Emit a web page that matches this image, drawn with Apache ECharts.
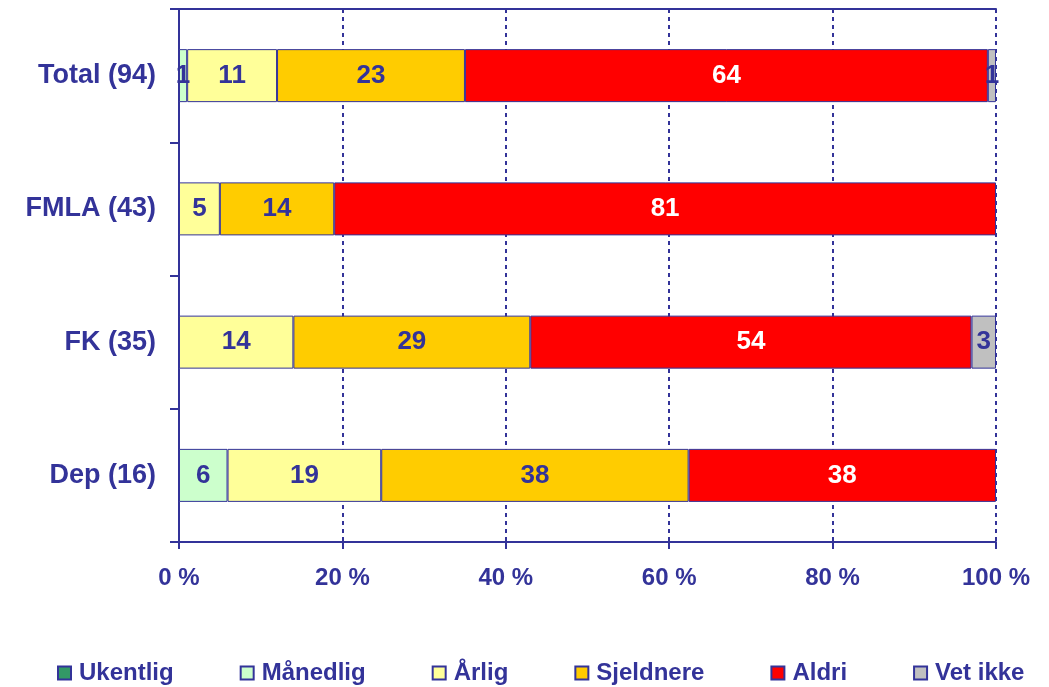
<!DOCTYPE html>
<html>
<head>
  <meta charset="utf-8">
  <title>Hyppighet</title>
  <script src="https://cdn.jsdelivr.net/npm/echarts/dist/echarts.min.js"></script>
  <style>
    body { margin: 0; background: #fff; }
    #chart { width: 1049px; height: 687px; }
  </style>
</head>
<body>
  <div id="chart"></div>
  <script>
    // data (rows top to bottom)
    var categories = ['Total (94)', 'FMLA (43)', 'FK (35)', 'Dep (16)'];
    var seriesNames = ['Ukentlig', 'Månedlig', 'Årlig', 'Sjeldnere', 'Aldri', 'Vet ikke'];
    var ukentlig  = [0, 0, 0, 0];
    var manedlig  = [1, 0, 0, 6];
    var arlig     = [11, 5, 14, 19];
    var sjeldnere = [23, 14, 29, 38];
    var aldri     = [64, 81, 54, 38];
    var vetIkke   = [1, 0, 3, 0];
    var tickLabels = [0, 20, 40, 60, 80, 100];

    var values = [ukentlig, manedlig, arlig, sjeldnere, aldri, vetIkke];
    var colors = ['#339966', '#CCFFCC', '#FFFF99', '#FFCC00', '#FF0000', '#C0C0C0'];
    var textColors = ['#ffffff', '#333399', '#333399', '#333399', '#ffffff', '#333399'];
    var navy = '#333399';
    var font = '"Liberation Sans", Arial, sans-serif';

    // row sums -> 100 % stack
    var sums = categories.map(function (c, i) {
      return values.reduce(function (s, arr) { return s + arr[i]; }, 0);
    });

    var series = seriesNames.map(function (name, k) {
      return {
        name: name,
        type: 'bar',
        stack: 'all',
        barWidth: 53,
        data: values[k].map(function (v, i) {
          return v ? v / sums[i] * 100 : null;
        }),
        itemStyle: { color: colors[k], borderColor: navy, borderWidth: 1 },
        label: {
          show: true,
          position: 'inside',
          color: textColors[k],
          fontFamily: font,
          fontWeight: 'bold',
          fontSize: 26,
          formatter: function (p) { return values[k][p.dataIndex] || ''; }
        }
      };
    });

    var chart = echarts.init(document.getElementById('chart'));
    chart.setOption({
      animation: false,
      grid: { left: 179, right: 53, top: 9, bottom: 145 },
      legend: {
        bottom: -3,
        left: 52,
        itemWidth: 13,
        itemHeight: 13,
        itemGap: 66,
        textStyle: { color: navy, fontFamily: font, fontWeight: 'bold', fontSize: 24, padding: [0, 0, 0, 3] },
        data: seriesNames.map(function (n) { return { name: n, icon: 'rect' }; })
      },
      xAxis: [{
        type: 'value',
        min: 0,
        max: 100,
        interval: 20,
        axisLine: { show: true, lineStyle: { color: navy, width: 2 } },
        axisTick: { show: true, length: 7, lineStyle: { color: navy, width: 2 } },
        axisLabel: {
          color: navy, fontFamily: font, fontWeight: 'bold', fontSize: 24, margin: 24,
          formatter: function (v) { return tickLabels.indexOf(v) >= 0 ? v + ' %' : ''; }
        },
        splitLine: { show: true, lineStyle: { color: navy, width: 2, type: [4, 4] } }
      }, {
        type: 'value',
        position: 'top',
        min: 0,
        max: 100,
        axisLine: { show: true, lineStyle: { color: navy, width: 2 } },
        axisTick: { show: false },
        axisLabel: { show: false },
        splitLine: { show: false }
      }],
      yAxis: {
        type: 'category',
        inverse: true,
        data: categories,
        axisLine: { show: true, lineStyle: { color: navy, width: 2 } },
        axisTick: { show: true, length: 9, lineStyle: { color: navy, width: 2 } },
        axisLabel: { color: navy, fontFamily: font, fontWeight: 'bold', fontSize: 27, margin: 23 }
      },
      series: series
    });
  </script>
</body>
</html>
